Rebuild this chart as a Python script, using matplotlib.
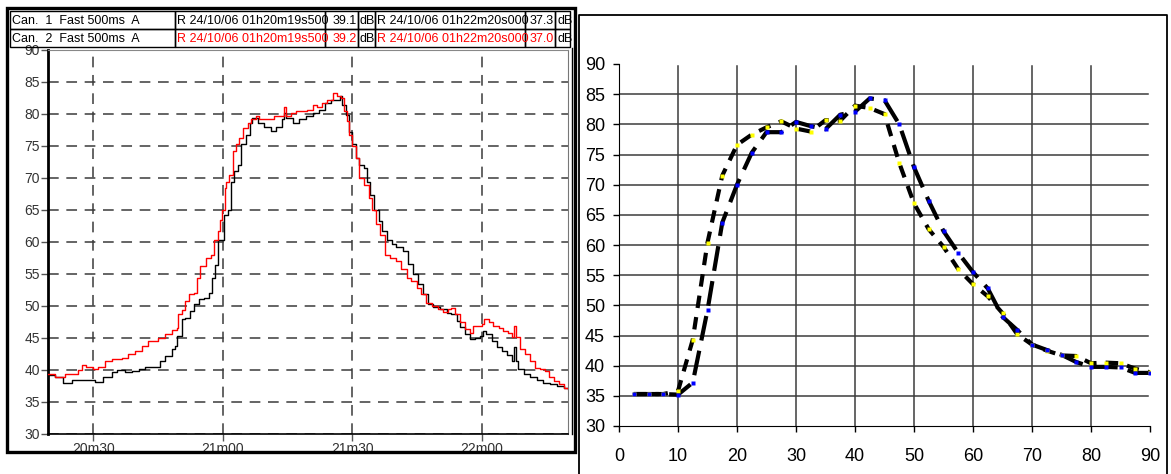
import matplotlib.pyplot as plt
from matplotlib.patches import Rectangle
import numpy as np

# ---- left panel: sound level recorder traces (seconds after 01h20m00) ----
t_red = [19.5, 21.1, 23.4, 26.5, 27.3, 28.4, 30.0, 31.2, 32.7, 34.3, 36.6, 38.1, 39.7, 41.2,
         42.7, 45.1, 46.7, 48.2, 49.4, 49.6, 50.5, 51.3, 52.1, 53.3, 54.0, 54.8, 56.0, 57.2,
         58.0, 58.8, 59.3, 59.9, 60.5, 60.8, 61.5, 62.3, 63.1, 63.8, 64.6, 65.8, 66.5, 67.7,
         68.5, 70.0, 71.9, 73.5, 74.2, 74.6, 75.8, 76.9, 78.5, 79.6, 80.8, 81.9, 83.1, 84.2,
         85.5, 86.5, 87.3, 88.1, 88.8, 89.2, 90.0, 90.8, 91.5, 92.7, 93.8, 94.6, 95.4, 96.5,
         97.7, 98.8, 100.2, 101.4, 102.6, 103.7, 104.9, 106.0, 107.2, 108.4, 109.9, 111.1,
         112.2, 113.0, 113.8, 115.0, 116.1, 117.3, 118.1, 119.2, 120.0, 120.6, 121.6, 122.7,
         123.9, 125.0, 126.2, 127.0, 127.4, 128.0, 128.9, 130.1, 131.2, 132.4, 133.6, 134.7,
         135.5, 136.7, 137.8, 139.0, 140.0]
v_red = [39.3, 38.8, 39.3, 40.0, 40.7, 40.5, 40.1, 40.5, 41.3, 41.6, 41.8, 42.5, 43.0, 43.7,
         44.5, 44.9, 45.6, 46.2, 46.5, 48.7, 49.3, 50.7, 51.9, 52.0, 54.4, 56.2, 57.5, 58.0,
         60.2, 61.6, 63.4, 65.0, 68.4, 69.4, 70.5, 74.1, 75.2, 76.2, 77.8, 78.5, 79.2, 79.7,
         79.1, 79.2, 79.6, 79.7, 81.1, 79.6, 80.1, 80.4, 80.4, 80.6, 81.3, 81.1, 81.7, 82.2,
         83.2, 82.7, 82.4, 80.4, 78.8, 76.7, 74.9, 73.1, 69.9, 68.9, 66.8, 65.0, 62.7, 61.1,
         58.0, 57.4, 57.0, 55.7, 54.4, 53.9, 52.8, 51.8, 50.5, 50.0, 49.5, 49.0,
         49.5, 49.6, 48.7, 47.4, 46.3, 45.8, 46.9, 46.9, 47.2, 48.0, 47.4, 46.9,
         46.5, 46.0, 45.7, 45.1, 46.9, 45.1, 43.2, 42.4, 41.3, 40.3, 40.1, 39.8,
         38.8, 38.3, 37.8, 37.2, 37.0]

t_blk = [19.5, 21.1, 23.0, 25.0, 30.0, 30.5, 32.3, 34.3, 35.4, 37.4, 38.9, 40.5, 42.0, 44.3,
         45.5, 46.7, 48.2, 49.0, 49.5, 50.5, 51.3, 52.5, 53.3, 54.4, 55.6, 56.7, 57.5, 58.3,
         59.0, 60.4, 61.2, 61.9, 62.7, 63.5, 64.2, 65.4, 66.2, 66.8, 68.1, 69.6, 71.2, 72.3,
         73.8, 74.2, 74.6, 76.2, 77.7, 79.2, 80.8, 82.3, 83.8, 85.0, 86.2, 87.1, 87.7, 88.5,
         89.2, 90.0, 90.8, 91.5, 92.7, 93.5, 94.2, 95.0, 96.2, 96.9, 98.1, 99.2, 100.2, 101.7,
         102.9, 104.1, 105.3, 106.4, 107.6, 108.8, 110.3, 111.9, 113.0, 114.2, 115.0, 116.1,
         117.3, 118.4, 119.6, 120.2, 121.1, 122.3, 123.5, 124.7, 125.8, 127.0, 127.4, 128.0,
         128.5, 129.7, 131.2, 132.8, 134.3, 135.9, 137.4, 139.0, 140.0]
v_blk = [39.2, 38.8, 38.0, 38.4, 38.4, 38.1, 38.8, 39.6, 40.0, 39.6, 39.8, 40.1, 40.5, 40.5,
         41.4, 42.2, 43.2, 43.7, 45.3, 47.9, 48.1, 49.2, 50.2, 51.0, 51.2, 52.0, 54.4, 56.4,
         60.2, 64.2, 65.0, 69.4, 71.0, 72.0, 75.2, 76.7, 78.5, 79.3, 78.5, 77.9, 77.3, 78.0,
         79.1, 80.1, 79.3, 78.5, 79.1, 79.6, 80.1, 80.6, 81.7, 82.2, 82.2, 82.7, 81.4, 79.8,
         77.2, 75.2, 73.1, 72.0, 71.5, 69.4, 67.3, 65.0, 63.2, 61.6, 60.3, 59.6, 59.1, 58.5,
         56.5, 54.9, 53.4, 51.8, 50.2, 49.8, 49.5, 48.9, 48.7, 47.6, 46.6, 45.6,
         44.8, 45.0, 45.3, 46.1, 45.6, 44.5, 43.5, 43.0, 42.3, 41.4, 43.5, 41.4,
         40.1, 39.3, 38.8, 38.4, 38.0, 37.8, 37.5, 37.2, 37.1]

left_yticks = list(range(30, 95, 5))
left_xticks = [30, 60, 90, 120]
left_xlabels = ['20m30', '21m00', '21m30', '22m00']

header_rows = [
    ['Can.  1  Fast 500ms  A', 'R 24/10/06 01h20m19s500', '39.1', 'dB', 'R 24/10/06 01h22m20s000', '37.3', 'dB'],
    ['Can.  2  Fast 500ms  A', 'R 24/10/06 01h20m19s500', '39.2', 'dB', 'R 24/10/06 01h22m20s000', '37.0', 'dB'],
]
header_colors = [
    ['black'] * 7,
    ['black', 'red', 'red', 'black', 'red', 'red', 'black'],
]

# ---- right panel: two series vs distance ----
x_right = [2.5, 5, 7.5, 10, 12.5, 15, 17.5, 20, 22.5, 25, 27.5, 30, 32.5, 35, 37.5, 40, 42.5, 45,
           47.5, 50, 52.5, 55, 57.5, 60, 62.5, 65, 67.5, 70, 72.5, 75, 77.5, 80, 82.5, 85, 87.5, 90]
blue_s = [35.3, 35.3, 35.3, 35.2, 37.2, 49.2, 63.7, 70.0, 75.3, 78.7, 78.7, 80.4, 79.7, 79.2, 81.6,
          82.1, 84.3, 84.0, 80.0, 72.9, 67.3, 62.3, 58.7, 55.5, 52.8, 48.1, 45.9, 43.5, 42.6, 41.8,
          40.6, 39.8, 39.8, 39.7, 38.8, 38.8]
yellow_s = [35.3, 35.3, 35.3, 35.8, 44.3, 60.4, 71.5, 76.6, 78.3, 79.5, 80.5, 79.3, 78.8, 80.7, 80.6,
            83.1, 82.7, 81.7, 73.6, 66.9, 62.6, 59.7, 56.0, 53.5, 51.5, 48.7, 45.2, 43.5, 42.5, 41.7,
            41.6, 40.4, 40.5, 40.4, 39.5, 38.9]
right_xticks = list(range(0, 100, 10))
right_yticks = list(range(30, 95, 5))

W, H = 1171, 474
fig = plt.figure(figsize=(W / 100, H / 100), dpi=100)
arial = ['Liberation Sans', 'DejaVu Sans']
narrow = ['Liberation Sans Narrow', 'Liberation Sans', 'DejaVu Sans']

# left chart
ax1 = fig.add_axes([48 / W, (H - 433.7) / H, 520 / W, 384 / H])
ax1.plot(t_blk, v_blk, drawstyle='steps-post', color='black', lw=1.0, zorder=3)
ax1.plot(t_red, v_red, drawstyle='steps-post', color='red', lw=1.0, zorder=4)
ax1.set_xlim(19.5, 140)
ax1.set_ylim(30, 90)
ax1.set_yticks(left_yticks)
ax1.set_xticks(left_xticks)
ax1.set_xticklabels(left_xlabels)
ax1.grid(True, ls=(0, (7, 5)), color='#3a3a3a', lw=1.1)
ax1.tick_params(axis='both', direction='out', length=5, width=1, color='#555',
                labelsize=10, labelcolor='#333', pad=1)
for lab in ax1.get_xticklabels() + ax1.get_yticklabels():
    lab.set_family(arial)
ax1.spines['left'].set_linewidth(2)
ax1.spines['bottom'].set_linewidth(1.2)
ax1.spines['top'].set_color('#888')
ax1.spines['right'].set_color('#777')

# right chart
ax2 = fig.add_axes([619 / W, (H - 426) / H, 531 / W, 362 / H])
for v in right_yticks[1:-1]:
    ax2.axhline(v, color='#3c3c3c', lw=1.1, xmax=0.996, zorder=1)
for x in right_xticks[1:-1]:
    ax2.axvline(x, color='#3c3c3c', lw=1.1, ymax=0.995, zorder=1)
ax2.plot(x_right, yellow_s, color='black', lw=3, dashes=(3, 2.2), zorder=3)
ax2.plot(x_right, blue_s, color='black', lw=3, dashes=(6, 2.5), zorder=3)
ax2.plot(x_right, yellow_s, ls='none', marker='s', ms=2.5, mec='none', mfc='#ffff00', zorder=4)
ax2.plot(x_right, blue_s, ls='none', marker='s', ms=2.5, mec='none', mfc='#0000ff', zorder=4)
ax2.set_xlim(0, 90)
ax2.set_ylim(30, 90)
ax2.set_xticks(right_xticks)
ax2.set_yticks(right_yticks)
ax2.spines['top'].set_visible(False)
ax2.spines['right'].set_visible(False)
ax2.tick_params(axis='both', direction='out', length=4, width=1, labelsize=13, pad=6)
ax2.tick_params(axis='x', pad=12)
for lab in ax2.get_xticklabels() + ax2.get_yticklabels():
    lab.set_family(narrow)

# overlay for frames and the cursor table
ov = fig.add_axes([0, 0, 1, 1], zorder=10)
ov.set_xlim(0, W)
ov.set_ylim(H, 0)
ov.axis('off')
ov.patch.set_alpha(0)

ov.add_patch(Rectangle((7, 8), 568, 444, fill=False, ec='black', lw=2.4))
ov.plot([571.5, 571.5], [48, 434], color='black', lw=1)
ov.plot([579, 579, 1167, 1167], [H, 15, 15, H], color='black', lw=1.3)

col_edges = [10, 175, 325, 358, 375, 525, 555, 570]
row_edges = [11, 29, 47]
for r, row in enumerate(header_rows):
    y0, y1 = row_edges[r], row_edges[r + 1]
    for c, txt in enumerate(row):
        x0, x1 = col_edges[c], col_edges[c + 1]
        ov.add_patch(Rectangle((x0, y0), x1 - x0, y1 - y0, fill=False, ec='black', lw=1))
        if c in (2, 5):
            ov.text(x1 - 1, (y0 + y1) / 2 + 0.5, txt, ha='right', va='center', fontsize=9,
                    family=arial, color=header_colors[r][c])
        else:
            ov.text(x0 + 2, (y0 + y1) / 2 + 0.5, txt, ha='left', va='center', fontsize=9,
                    family=arial, color=header_colors[r][c], clip_on=True)

fig.savefig('out.png', dpi=100)
